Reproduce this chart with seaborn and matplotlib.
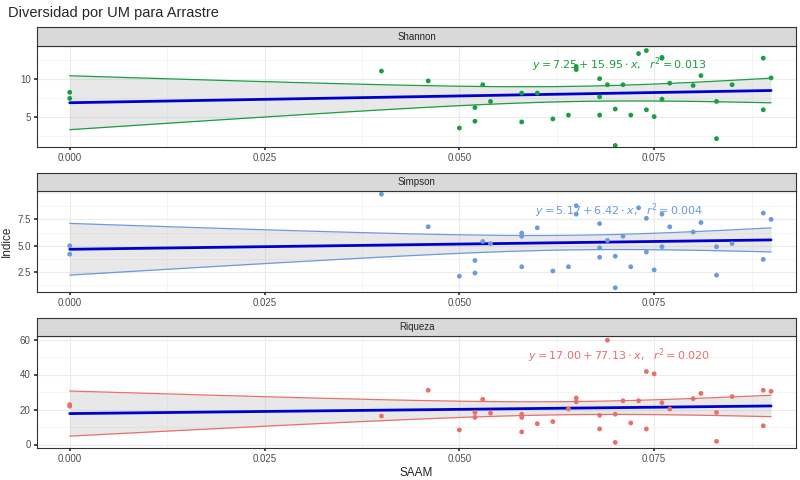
import numpy as np
import matplotlib
matplotlib.use("Agg")
import matplotlib.pyplot as plt
import seaborn as sns

# Shannon
sh_x = [0, 0, 0.040, 0.046, 0.050, 0.052, 0.052, 0.053, 0.054, 0.058, 0.058, 0.060, 0.062, 0.064,
        0.065, 0.065, 0.068, 0.068, 0.068, 0.069, 0.070, 0.070, 0.071, 0.072, 0.073, 0.074, 0.074,
        0.075, 0.076, 0.076, 0.076, 0.077, 0.080, 0.081, 0.083, 0.083, 0.085, 0.089, 0.089, 0.090]
sh_y = [8.2, 7.4, 11.0, 9.7, 3.5, 6.2, 4.4, 9.2, 7.0, 8.1, 4.3, 8.1, 4.7, 5.2,
        11.6, 11.2, 10.0, 7.6, 5.2, 9.2, 6.0, 1.2, 9.2, 5.2, 13.3, 13.7, 5.9,
        5.0, 12.8, 12.7, 7.3, 9.4, 9.1, 10.4, 2.1, 7.0, 9.2, 12.7, 5.9, 10.1]
# Simpson
si_x = [0, 0, 0.040, 0.046, 0.050, 0.052, 0.052, 0.053, 0.054, 0.058, 0.058, 0.058, 0.060, 0.062,
        0.064, 0.065, 0.065, 0.068, 0.068, 0.068, 0.069, 0.070, 0.070, 0.071, 0.072, 0.073, 0.074,
        0.074, 0.075, 0.076, 0.076, 0.077, 0.080, 0.081, 0.083, 0.083, 0.085, 0.089, 0.089, 0.090]
si_y = [5.0, 4.2, 9.9, 6.8, 2.1, 3.6, 2.4, 5.4, 5.2, 6.2, 5.9, 3.0, 6.7, 2.6,
        3.0, 8.8, 8.0, 7.1, 4.8, 3.9, 5.5, 4.0, 1.0, 5.9, 3.0, 8.6, 7.6,
        4.4, 2.7, 8.0, 4.9, 6.8, 6.3, 7.2, 2.2, 4.9, 5.2, 8.1, 3.7, 7.5]
# Riqueza
ri_x = [0, 0, 0.040, 0.046, 0.050, 0.052, 0.052, 0.053, 0.054, 0.058, 0.058, 0.058, 0.060, 0.062,
        0.064, 0.065, 0.065, 0.068, 0.068, 0.069, 0.070, 0.070, 0.071, 0.072, 0.073, 0.074, 0.074,
        0.075, 0.076, 0.077, 0.080, 0.081, 0.083, 0.083, 0.085, 0.089, 0.089, 0.090]
ri_y = [22.8, 21.9, 16.3, 31.0, 8.3, 18.3, 15.5, 25.8, 17.9, 17.3, 15.5, 7.2, 11.9, 13.1,
        20.3, 26.6, 24.4, 16.7, 8.9, 59.6, 17.3, 1.2, 25.0, 12.3, 25.0, 41.7, 8.9,
        40.4, 23.9, 20.3, 26.2, 29.2, 18.3, 1.8, 27.4, 31.0, 10.7, 30.4]

panels = [
    ("Shannon", sh_x, sh_y, "#1a9e3f", r"$y = 7.25 + 15.95 \cdot x,\ \ r^2 = 0.013$", 11.8, (1.0, 14.3), [5, 10]),
    ("Simpson", si_x, si_y, "#6a9ae0", r"$y = 5.17 + 6.42 \cdot x,\ \ r^2 = 0.004$", 8.3, (0.6, 10.2), [2.5, 5.0, 7.5]),
    ("Riqueza", ri_x, ri_y, "#e8706a", r"$y = 17.00 + 77.13 \cdot x,\ \ r^2 = 0.020$", 51, (-2, 62), [0, 20, 40, 60]),
]

sns.set_theme(style="whitegrid")
plt.rcParams["font.family"] = ["Liberation Sans", "DejaVu Sans"]

fig = plt.figure(figsize=(8, 4.8), dpi=100)
W, H = 800, 480
# (strip top, plot top, plot bottom) in pixels
boxes = [(27, 46, 147), (173, 191, 292), (318, 336, 448)]
left, right = 37, 796

for (name, xs, ys, col, label, ty, ylim, yt), (st, pt, pb) in zip(panels, boxes):
    ax = fig.add_axes([left / W, 1 - pb / H, (right - left) / W, (pb - pt) / H])
    sax = fig.add_axes([left / W, 1 - pt / H, (right - left) / W, (pt - st) / H])
    sax.set_facecolor("#d9d9d9")
    sax.set_xticks([]); sax.set_yticks([])
    for s in sax.spines.values():
        s.set_color("#333333"); s.set_linewidth(0.8)
    sax.text(0.5, 0.5, name, ha="center", va="center", fontsize=7, transform=sax.transAxes)

    x = np.array(xs); y = np.array(ys)
    n = len(x)
    b1, b0 = np.polyfit(x, y, 1)
    grid = np.linspace(0, 0.09, 80)
    fit = b0 + b1 * grid
    resid = y - (b0 + b1 * x)
    s = np.sqrt(np.sum(resid ** 2) / (n - 2))
    se = s * np.sqrt(1 / n + (grid - x.mean()) ** 2 / np.sum((x - x.mean()) ** 2))
    lo, hi = fit - 2.02 * se, fit + 2.02 * se
    ax.fill_between(grid, lo, hi, color="#999999", alpha=0.22, lw=0)
    ax.plot(grid, lo, color=col, lw=0.9)
    ax.plot(grid, hi, color=col, lw=0.9)
    ax.plot(grid, fit, color="#0000cc", lw=2)
    sns.scatterplot(x=xs, y=ys, color=col, s=12, edgecolor="none", ax=ax, zorder=3)
    ax.text(0.0705, ty, label, color=col, fontsize=8, ha="center", va="center")

    ax.set_xlim(-0.0042, 0.0932)
    ax.set_ylim(*ylim)
    ax.set_xticks([0, 0.025, 0.05, 0.075])
    ax.set_xticklabels(["0.000", "0.025", "0.050", "0.075"], fontsize=7, color="#4d4d4d")
    ax.set_yticks(yt)
    ax.set_yticklabels([f"{v:g}" if name != "Simpson" else f"{v:.1f}" for v in yt], fontsize=7, color="#4d4d4d")
    ax.tick_params(length=2.5, pad=2, left=True, bottom=True, color="#333333")
    ax.xaxis.set_minor_locator(matplotlib.ticker.AutoMinorLocator(2))
    ax.yaxis.set_minor_locator(matplotlib.ticker.AutoMinorLocator(2))
    ax.grid(True, which="major", color="#ebebeb", lw=0.8)
    ax.grid(True, which="minor", color="#f2f2f2", lw=0.5)
    for sp in ax.spines.values():
        sp.set_color("#333333"); sp.set_linewidth(0.8)
    ax.set_xlabel(""); ax.set_ylabel("")
    if name == "Riqueza":
        ax.set_xlabel("SAAM", fontsize=8.5, labelpad=2)
    if name == "Simpson":
        ax.set_ylabel("Indice", fontsize=8.5, labelpad=3)

fig.text(8 / W, 1 - 13 / H, "Diversidad por UM para Arrastre", fontsize=10.5, va="center")
fig.savefig("out.png", dpi=100)
